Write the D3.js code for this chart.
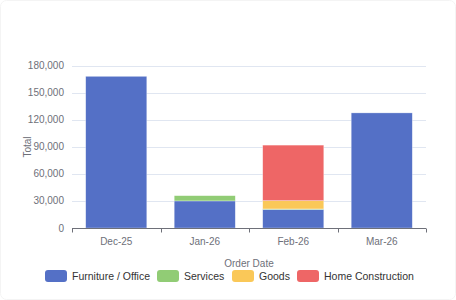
<!DOCTYPE html>
<html>
<head>
<meta charset="utf-8">
<script src="https://cdn.jsdelivr.net/npm/d3@7"></script>
<style>
  html, body { margin: 0; padding: 0; background: #fff; }
  svg { display: block; font-family: "Liberation Sans", Arial, sans-serif; }
</style>
</head>
<body>
<svg id="chart" width="456" height="300"></svg>
<script>
const months = ["Dec-25", "Jan-26", "Feb-26", "Mar-26"];
const seriesNames = ["Furniture / Office", "Services", "Goods", "Home Construction"];
const furniture = [168000, 30000, 20500, 127500];
const services = [0, 5800, 600, 0];
const goods = [0, 0, 9200, 0];
const homeConstruction = [0, 0, 61500, 0];
const yTicks = [0, 30000, 60000, 90000, 120000, 150000, 180000];

const colors = ["#5470c6", "#91cc75", "#fac858", "#ee6666"];
const seriesValues = [furniture, services, goods, homeConstruction];

const svg = d3.select("#chart");
const W = 456, H = 300;
const m = { left: 72, right: 30, top: 65.5, bottom: 72 };

// faint card outline
svg.append("rect")
  .attr("x", 0.5).attr("y", 0.5).attr("width", W - 1).attr("height", H - 1)
  .attr("rx", 6).attr("fill", "#fff").attr("stroke", "#f4f4f4");

const x = d3.scaleBand().domain(months).range([m.left, W - m.right]).paddingInner(0.31).paddingOuter(0.155);
const xAxisBand = d3.scaleBand().domain(months).range([m.left, W - m.right]);
const y = d3.scaleLinear().domain([0, 180000]).range([H - m.bottom, m.top]);

// grid lines
svg.append("g").selectAll("line").data(yTicks.slice(1)).join("line")
  .attr("x1", m.left).attr("x2", W - m.right)
  .attr("y1", d => Math.round(y(d)) + 0.5).attr("y2", d => Math.round(y(d)) + 0.5)
  .attr("stroke", "#e0e6f1");

// y labels
svg.append("g").selectAll("text").data(yTicks).join("text")
  .attr("x", 64).attr("y", d => y(d)).attr("dy", "0.35em")
  .attr("text-anchor", "end").attr("font-size", 10).attr("fill", "#6e7079")
  .text(d => d3.format(",")(d));

// stacked bars
const rows = months.map((mo, i) => {
  const r = { month: mo };
  seriesNames.forEach((s, k) => { r[s] = seriesValues[k][i]; });
  return r;
});
const stacked = d3.stack().keys(seriesNames)(rows);

svg.append("g").selectAll("g").data(stacked).join("g")
  .attr("fill", (d, i) => colors[i])
  .selectAll("rect").data(d => d.filter(p => p[1] - p[0] > 0)).join("rect")
  .attr("x", d => x(d.data.month))
  .attr("width", x.bandwidth())
  .attr("y", d => y(d[1]))
  .attr("height", d => y(d[0]) - y(d[1]))
  .attr("stroke", "rgba(255,255,255,0.5)")
  .attr("stroke-width", 0.6);

// x axis
const xAxis = svg.append("g").attr("transform", `translate(0,${Math.round(y(0)) + 0.5})`);
xAxis.append("line").attr("x1", m.left).attr("x2", W - m.right).attr("stroke", "#6e7079");
const bounds = months.map(mo => xAxisBand(mo)).concat([W - m.right]);
xAxis.selectAll(".tk").data(bounds).join("line")
  .attr("x1", d => Math.round(d) + 0.5).attr("x2", d => Math.round(d) + 0.5)
  .attr("y1", 0).attr("y2", 4).attr("stroke", "#6e7079");
xAxis.selectAll("text").data(months).join("text")
  .attr("x", d => xAxisBand(d) + xAxisBand.bandwidth() / 2)
  .attr("y", 13).attr("dy", "0.35em")
  .attr("text-anchor", "middle").attr("font-size", 10).attr("fill", "#6e7079")
  .text(d => d);

// axis titles
svg.append("text")
  .attr("transform", "translate(27,147) rotate(-90)")
  .attr("text-anchor", "middle").attr("dy", "0.35em")
  .attr("font-size", 10).attr("fill", "#6e7079").text("Total");
svg.append("text")
  .attr("x", (m.left + W - m.right) / 2).attr("y", 263).attr("dy", "0.35em")
  .attr("text-anchor", "middle").attr("font-size", 10).attr("fill", "#6e7079").text("Order Date");

// legend
const legendX = [45, 157, 232, 297];
const lg = svg.append("g").selectAll("g").data(seriesNames).join("g")
  .attr("transform", (d, i) => `translate(${legendX[i]},270)`);
lg.append("rect").attr("width", 22).attr("height", 12).attr("rx", 3)
  .attr("fill", (d, i) => colors[i]);
lg.append("text").attr("x", 27).attr("y", 6).attr("dy", "0.35em")
  .attr("font-size", 10.5).attr("fill", "#333").text(d => d);
</script>
</body>
</html>
